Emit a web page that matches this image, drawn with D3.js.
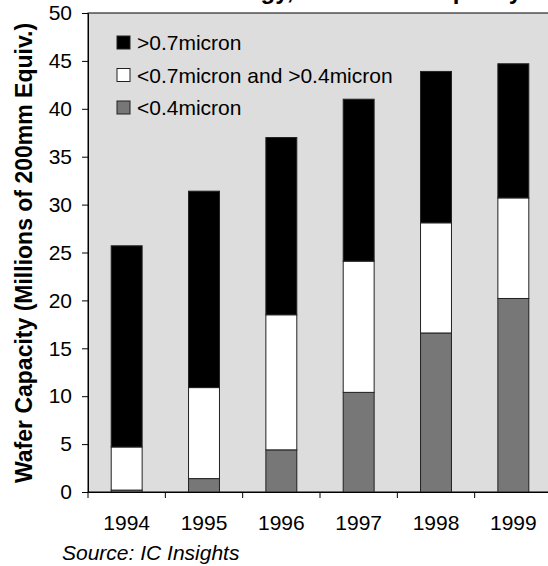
<!DOCTYPE html>
<html>
<head>
<meta charset="utf-8">
<script src="https://cdn.jsdelivr.net/npm/d3@7/dist/d3.min.js"></script>
<style>
  html, body { margin: 0; padding: 0; background: #fff; }
  svg { display: block; font-family: "Liberation Sans", Arial, sans-serif; }
</style>
</head>
<body>
<svg id="chart" width="548" height="566"></svg>
<script>
// Wafer capacity by feature size, millions of 200mm-equivalent wafers
const years = ["1994", "1995", "1996", "1997", "1998", "1999"];
const below04 = [0.2, 1.4, 4.4, 10.4, 16.6, 20.2];
const between = [4.5, 9.5, 14.1, 13.7, 11.5, 10.5];
const above07 = [21.0, 20.5, 18.5, 16.9, 15.8, 14.0];
const seriesNames = ["<0.4micron", "<0.7micron and >0.4micron", ">0.7micron"];
const seriesColors = ["#777777", "#ffffff", "#000000"];
const yTicks = [0, 5, 10, 15, 20, 25, 30, 35, 40, 45, 50];

const svg = d3.select("#chart");
const plot = { left: 88, top: 13, right: 552, bottom: 492 };

const rows = years.map((yr, i) => ({
  year: yr,
  [seriesNames[0]]: below04[i],
  [seriesNames[1]]: between[i],
  [seriesNames[2]]: above07[i]
}));
const stacked = d3.stack().keys(seriesNames)(rows);

const x = d3.scaleBand()
  .domain(years)
  .range([plot.left, plot.right])
  .paddingInner(0.6)
  .paddingOuter(0.3);
const y = d3.scaleLinear().domain([0, 50]).range([plot.bottom, plot.top]);
const color = d3.scaleOrdinal().domain(seriesNames).range(seriesColors);

// title (runs off the top edge)
svg.append("text")
  .attr("x", 522)
  .attr("y", -1)
  .attr("text-anchor", "end")
  .attr("font-size", 24)
  .attr("font-weight", "bold")
  .text("Process Technology, Wafer Fab Capacity");

// plot background
svg.append("rect")
  .attr("x", plot.left)
  .attr("y", plot.top)
  .attr("width", plot.right - plot.left)
  .attr("height", plot.bottom - plot.top)
  .attr("fill", "#dddddd")
  .attr("stroke", "#000")
  .attr("stroke-width", 1);

// stacked bars
svg.append("g")
  .selectAll("g")
  .data(stacked)
  .join("g")
  .attr("fill", d => color(d.key))
  .selectAll("rect")
  .data(d => d)
  .join("rect")
  .attr("x", d => x(d.data.year))
  .attr("y", d => y(d[1]))
  .attr("width", x.bandwidth())
  .attr("height", d => y(d[0]) - y(d[1]))
  .attr("stroke", "#222")
  .attr("stroke-width", 1);

// y axis
const yAxis = svg.append("g")
  .attr("transform", `translate(${plot.left},0)`)
  .call(d3.axisLeft(y).tickValues(yTicks).tickSize(6).tickPadding(10).tickSizeOuter(0));
yAxis.selectAll("text")
  .attr("font-size", 21)
  .attr("font-family", "Liberation Sans, Arial, sans-serif")
  .attr("fill", "#000");
yAxis.selectAll("line, path").attr("stroke", "#000");

// x axis with ticks on category boundaries
const xAxis = svg.append("g")
  .attr("transform", `translate(0,${plot.bottom})`)
  .call(d3.axisBottom(x).tickSize(0).tickPadding(23).tickSizeOuter(0));
xAxis.selectAll("text")
  .attr("font-size", 21)
  .attr("font-family", "Liberation Sans, Arial, sans-serif")
  .attr("fill", "#000");
xAxis.select("path").attr("stroke", "#000");
xAxis.selectAll(".boundary")
  .data(d3.range(years.length + 1))
  .join("line")
  .attr("class", "boundary")
  .attr("x1", i => plot.left + i * x.step())
  .attr("x2", i => plot.left + i * x.step())
  .attr("y1", 0)
  .attr("y2", 6)
  .attr("stroke", "#000");

// y axis title
svg.append("text")
  .attr("transform", "translate(32,253) rotate(-90)")
  .attr("text-anchor", "middle")
  .attr("font-size", 23)
  .attr("font-weight", "bold")
  .text("Wafer Capacity (Millions of 200mm Equiv.)");

// legend, top series first
const legendOrder = seriesNames.slice().reverse();
const legend = svg.append("g")
  .selectAll("g")
  .data(legendOrder)
  .join("g")
  .attr("transform", (d, i) => `translate(117,${42.5 + i * 32.5})`);
legend.append("rect")
  .attr("x", 0)
  .attr("y", -6.5)
  .attr("width", 13)
  .attr("height", 13)
  .attr("fill", d => color(d))
  .attr("stroke", "#222")
  .attr("stroke-width", 1);
legend.append("text")
  .attr("x", 20)
  .attr("y", 0)
  .attr("dy", "0.36em")
  .attr("font-size", 21)
  .text(d => d);

// source note
svg.append("text")
  .attr("x", 62)
  .attr("y", 560)
  .attr("font-size", 21)
  .attr("font-style", "italic")
  .text("Source: IC Insights");
</script>
</body>
</html>
